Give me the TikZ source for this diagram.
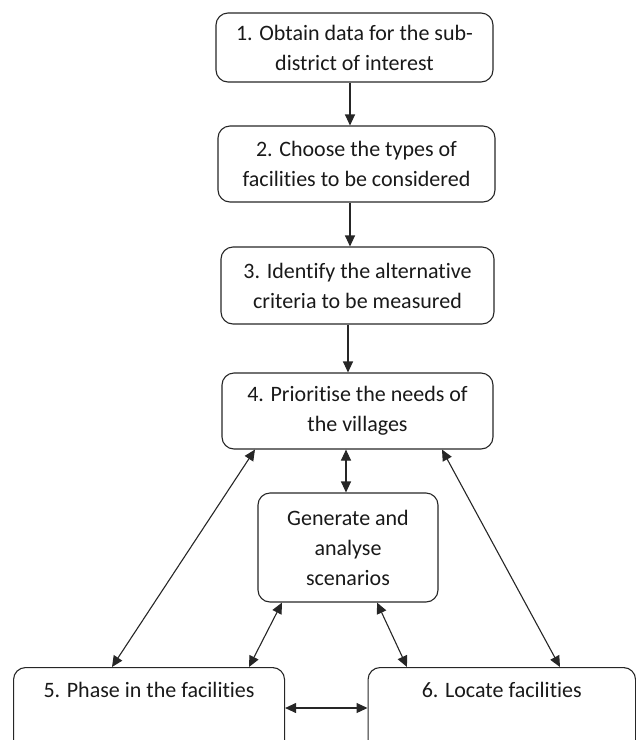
\documentclass[tikz,border=0pt]{standalone}
\usepackage{fontspec}
\setmainfont{Carlito}[Ligatures={NoCommon,NoRare,NoContextual}]
\usetikzlibrary{arrows.meta}
\begin{document}
\begin{tikzpicture}[x=1pt,y=-1pt,
  base/.style={draw=black!85, line width=1.1pt, rounded corners=12pt, inner sep=0pt,
    font=\fontsize{22}{30}\selectfont, text=black!90},
  box/.style={base, align=center},
  lowbox/.style={base, anchor=north west, text height=30pt, text depth=90pt},
  one/.style={draw=black!85, line width=1.1pt, -{Triangle[length=11pt,width=10pt]}},
  arr/.style={draw=black!85, line width=1.1pt, {Triangle[length=11pt,width=10pt]}-{Triangle[length=11pt,width=10pt]}}]
\useasboundingbox (0,0) rectangle (636,740);
\clip (0,0) rectangle (636,740);
\node[box, minimum width=277pt, minimum height=69pt] (b1) at (354.5,47.5)
  {1. Obtain data for the sub-\\district of interest};
\node[box, minimum width=277pt, minimum height=76pt] (b2) at (356.5,164)
  {2. Choose the types of\\facilities to be considered};
\node[box, minimum width=273pt, minimum height=77pt] (b3) at (357.5,285.5)
  {3. Identify the alternative\\criteria to be measured};
\node[box, minimum width=271pt, minimum height=76pt] (b4) at (357.5,411)
  {4. Prioritise the needs of\\the villages};
\node[box, minimum width=180pt, minimum height=109pt] (gen) at (348,547.5)
  {Generate and\\analyse\\scenarios};
\node[lowbox, minimum width=271pt] (b5) at (13,667) {5. Phase in the facilities};
\node[lowbox, minimum width=267.5pt] (b6) at (367.5,667) {6. Locate facilities};
% connectors
\draw[one] (350,0 |- b1.south) -- (350,0 |- b2.north);
\draw[one] (350,0 |- b2.south) -- (350,0 |- b3.north);
\draw[one] (348,0 |- b3.south) -- (348,0 |- b4.north);
\draw[arr] (346,0 |- b4.south) -- (346,0 |- gen.north);
\draw[arr] (255,0 |- b4.south) -- (112,0 |- b5.north);
\draw[arr] (442,0 |- b4.south) -- (560,0 |- b6.north);
\draw[arr] (282,0 |- gen.south) -- (249,0 |- b5.north);
\draw[arr] (377,0 |- gen.south) -- (407,0 |- b6.north);
\draw[arr] (b5.east |- 0,708) -- (b6.west |- 0,708);
\end{tikzpicture}
\end{document}
